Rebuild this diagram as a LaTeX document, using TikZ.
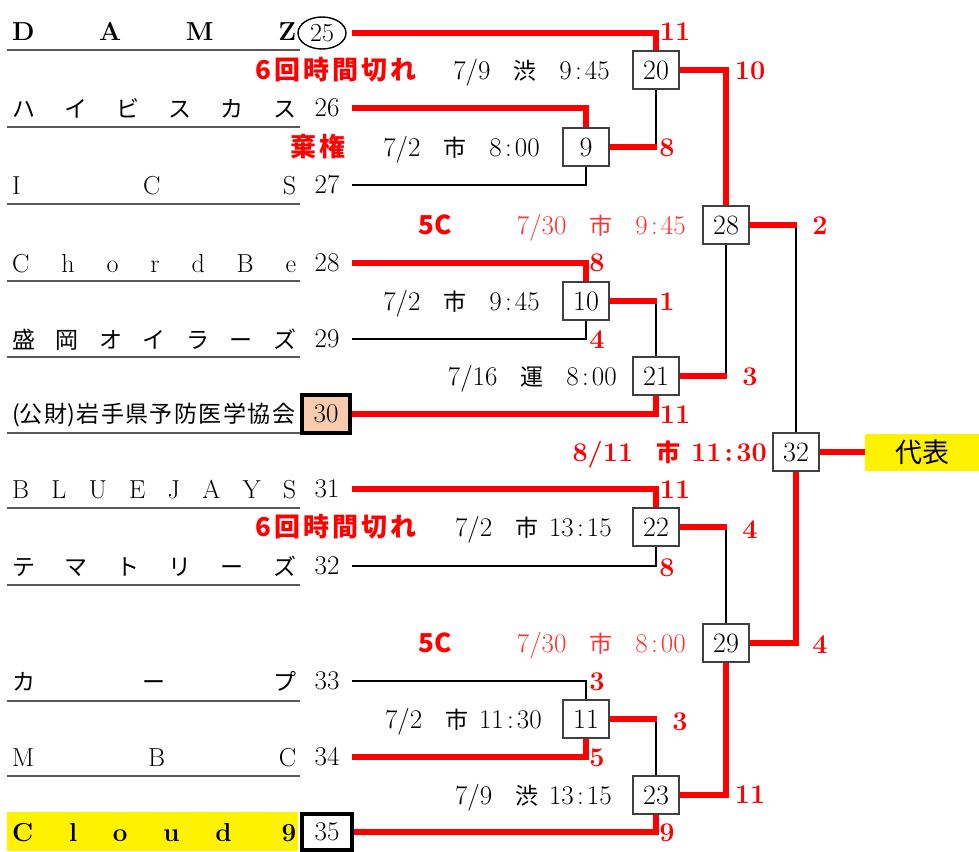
\documentclass[tikz,border=0pt]{standalone}
\usepackage{fontspec}
\newfontfamily\jp{Noto Sans CJK JP}
\usetikzlibrary{shapes.geometric}
\definecolor{peach}{HTML}{F8CBAD}
\definecolor{dred}{HTML}{FF3030}
\newcommand\dsep{\hspace{0.85em}}
\newcommand\cln{\hspace{0.12em}:\hspace{0.12em}}
\newcommand\ls{\hspace{3pt}}
\newcommand\jk[1]{{\jp\fontsize{23}{23}\selectfont #1}}
\begin{document}
\begin{tikzpicture}[x=1pt,y=-1pt,
 win/.style={draw=red, line width=6pt},
 lose/.style={draw=black, line width=2.8pt},
 mbox/.style={draw=black!75, line width=1.3pt, fill=white, minimum width=46pt, minimum height=38pt, inner sep=0pt, font=\fontsize{28}{28}\selectfont},
 seed/.style={minimum width=50pt, inner sep=0pt, font=\fontsize{27}{27}\selectfont},
 team/.style={anchor=base west, inner sep=0pt, font=\fontsize{26}{26}\selectfont},
 teamjp/.style={anchor=base west, inner sep=0pt, font=\fontsize{23}{23}\selectfont\jp},
 uline/.style={draw=black!65, line width=1.6pt},
 sc/.style={anchor=base, text=red, inner sep=0pt, font=\fontsize{27}{27}\selectfont\bfseries},
 dt/.style={anchor=base east, inner sep=0pt, font=\fontsize{27}{27}\selectfont},
 rdt/.style={dt, text=dred},
 rl/.style={anchor=base, text=red, inner sep=0pt, font=\fontsize{26}{26}\selectfont\jp\bfseries},
]
\useasboundingbox (0,0) rectangle (979,851);
\fill[yellow] (7,812) rectangle (298,851);
\foreach \yy in {50,127,204,281,357,433,508,585,701,776} \draw[uline] (7,\yy) -- (300,\yy);

% teams
\node[team] (t25) at (12,41) {\bfseries\makebox[284pt][l]{D\hfill A\hfill M\hfill Z}};
\node[teamjp] (t26) at (12,117) {\makebox[284pt][l]{ハ\hfill イ\hfill ビ\hfill ス\hfill カ\hfill ス}};
\node[team] (t27) at (12,194) {\makebox[284pt][l]{I\hfill C\hfill S}};
\node[team] (t28) at (12,272) {\makebox[284pt][l]{C\hfill h\hfill o\hfill r\hfill d\hfill B\hfill e}};
\node[teamjp] (t29) at (12,348) {\makebox[284pt][l]{盛\hfill 岡\hfill オ\hfill イ\hfill ラ\hfill ー\hfill ズ}};
\node[teamjp] (t30) at (12,422) {\makebox[283pt][l]{(公\hfill 財)\hfill 岩\hfill 手\hfill 県\hfill 予\hfill 防\hfill 医\hfill 学\hfill 協\hfill 会}};
\node[team] (t31) at (12,498) {\makebox[284pt][l]{B\hfill L\hfill U\hfill E\hfill J\hfill A\hfill Y\hfill S}};
\node[teamjp] (t32) at (12,575) {\makebox[284pt][l]{テ\hfill マ\hfill ト\hfill リ\hfill ー\hfill ズ}};
\node[teamjp] (t33) at (12,690) {\makebox[284pt][l]{カ\hfill ー\hfill プ}};
\node[team] (t34) at (12,766) {\makebox[284pt][l]{M\hfill B\hfill C}};
\node[team] (t35) at (12,841) {\bfseries\makebox[284pt][l]{C\hfill l\hfill o\hfill u\hfill d\hspace{\stretch{1.4}}9}};

% seeds
\node[draw, ellipse, line width=1.4pt, minimum width=48pt, minimum height=32pt, inner sep=0pt, font=\fontsize{26}{26}\selectfont] (s25) at (322,33) {25};
\node[seed] (s26) at (327,108) {26};
\node[seed] (s27) at (327,185) {27};
\node[seed] (s28) at (327,263) {28};
\node[seed] (s29) at (327,339) {29};
\node[seed, draw, line width=4pt, fill=peach, minimum width=48pt, minimum height=38pt] (s30) at (326,414) {30};
\node[seed] (s31) at (327,489) {31};
\node[seed] (s32) at (327,566) {32};
\node[seed] (s33) at (327,681) {33};
\node[seed] (s34) at (327,757) {34};
\node[seed, draw, line width=4pt, fill=white, minimum width=50pt, minimum height=36pt] (s35) at (327,832) {35};

% matches
\node[mbox] (m20) at (656,70) {20};
\node[mbox] (m9) at (586,147) {9};
\node[mbox] (m28) at (726,225) {28};
\node[mbox] (m10) at (586,301) {10};
\node[mbox] (m21) at (656,376) {21};
\node[mbox] (m32) at (796,452) {32};
\node[mbox] (m22) at (656,527) {22};
\node[mbox] (m29) at (726,643) {29};
\node[mbox] (m11) at (586,719) {11};
\node[mbox] (m23) at (656,795) {23};
\node[fill=yellow, minimum width=114pt, minimum height=37pt, inner sep=0pt, font=\fontsize{27}{27}\selectfont\jp] (rep) at (922,452) {代表};

\coordinate (j9) at (m20.south |- m9.east);
\coordinate (j10) at (m21.north |- m10.east);
\coordinate (j11) at (m23.north |- m11.east);
\coordinate (j22) at (m29.north |- m22.east);
\coordinate (j28) at (m32.north |- m28.east);
\coordinate (j21) at (m28.south |- m21.east);

% losing lines
\draw[lose] (s27.east) -| (m9.south);
\draw[lose] (j9) -- (m20.south);
\draw[lose] (j28) -- (m32.north);
\draw[lose] (m28.south) -- (j21);
\draw[lose] (s29.east) -| (m10.south);
\draw[lose] (j10) -- (m21.north);
\draw[lose] (s32.east) -| (m22.south);
\draw[lose] (j22) -- (m29.north);
\draw[lose] (s33.east) -| (m11.north);
\draw[lose] (j11) -- (m23.north);

% winning lines
\draw[win] ([xshift=5pt]s25.east) -| (m20.north);
\draw[win] (m20.east) -| (m28.north);
\draw[win] (s26.east) -| (m9.north);
\draw[win] (m9.east) -- ([xshift=1.4pt]j9);
\draw[win] (m28.east) -- ([xshift=1.4pt]j28);
\draw[win] (s28.east) -| (m10.north);
\draw[win] (m10.east) -- ([xshift=1.4pt]j10);
\draw[win] (s30.east) -| (m21.south);
\draw[win] (m21.east) -- ([xshift=1.4pt]j21);
\draw[win] (m32.east) -- (rep.west);
\draw[win] (s31.east) -| (m22.north);
\draw[win] (m22.east) -- ([xshift=1.4pt]j22);
\draw[win] (m29.east) -| (m32.south);
\draw[win] (m29.south) |- (m23.east);
\draw[win] (s34.east) -| (m11.south);
\draw[win] (m11.east) -- ([xshift=1.4pt]j11);
\draw[win] (s35.east) -| (m23.south);

% scores
\node[sc] (a1) at (675,41) {11};
\node[sc] (a2) at (750,79) {10};
\node[sc] (a3) at (667,156) {8};
\node[sc] (a4) at (820,234) {2};
\node[sc] (a5) at (597,271) {8};
\node[sc] (a6) at (667,310) {1};
\node[sc] (a7) at (597,348) {4};
\node[sc] (a8) at (750,385) {3};
\node[sc] (a9) at (675,423) {11};
\node[sc] (a10) at (675,498) {11};
\node[sc] (a11) at (750,538) {4};
\node[sc] (a12) at (667,576) {8};
\node[sc] (a13) at (820,653) {4};
\node[sc] (a14) at (597,690) {3};
\node[sc] (a15) at (680,730) {3};
\node[sc] (a16) at (597,766) {5};
\node[sc] (a17) at (750,803) {11};
\node[sc] (a18) at (667,841) {9};

% dates
\node[dt] (d1) at (610,79) {7/9\dsep\jk{渋}\dsep 9\cln 45};
\node[dt] (d2) at (540,156) {7/2\dsep\jk{市}\dsep 8\cln 00};
\node[rdt] (d3) at (686,234) {7/30\dsep\jk{市}\dsep 9\cln 45};
\node[dt] (d4) at (540,310) {7/2\dsep\jk{市}\dsep 9\cln 45};
\node[dt] (d5) at (617,385) {7/16\dsep\jk{運}\dsep 8\cln 00};
\node[dt, text=red, font=\fontsize{27}{27}\selectfont\bfseries] (d6) at (767,461) {8/11\dsep{\jp\bfseries\fontsize{24}{24}\selectfont 市}\hspace{0.4em}11\cln 30};
\node[dt] (d7) at (612,536) {7/2\dsep\jk{市}\hspace{0.4em}13\cln 15};
\node[rdt] (d8) at (686,652) {7/30\dsep\jk{市}\dsep 8\cln 00};
\node[dt] (d9) at (542,728) {7/2\dsep\jk{市}\hspace{0.4em}11\cln 30};
\node[dt] (d10) at (612,804) {7/9\dsep\jk{渋}\hspace{0.4em}13\cln 15};

% red notes
\node[rl] (r1) at (336,79) {6\ls 回\ls 時\ls 間\ls 切\ls れ};
\node[rl] (r2) at (318,156) {棄\ls 権};
\node[rl] (r3) at (435,234) {5C};
\node[rl] (r4) at (336,536) {6\ls 回\ls 時\ls 間\ls 切\ls れ};
\node[rl] (r5) at (435,652) {5C};
\end{tikzpicture}
\end{document}
